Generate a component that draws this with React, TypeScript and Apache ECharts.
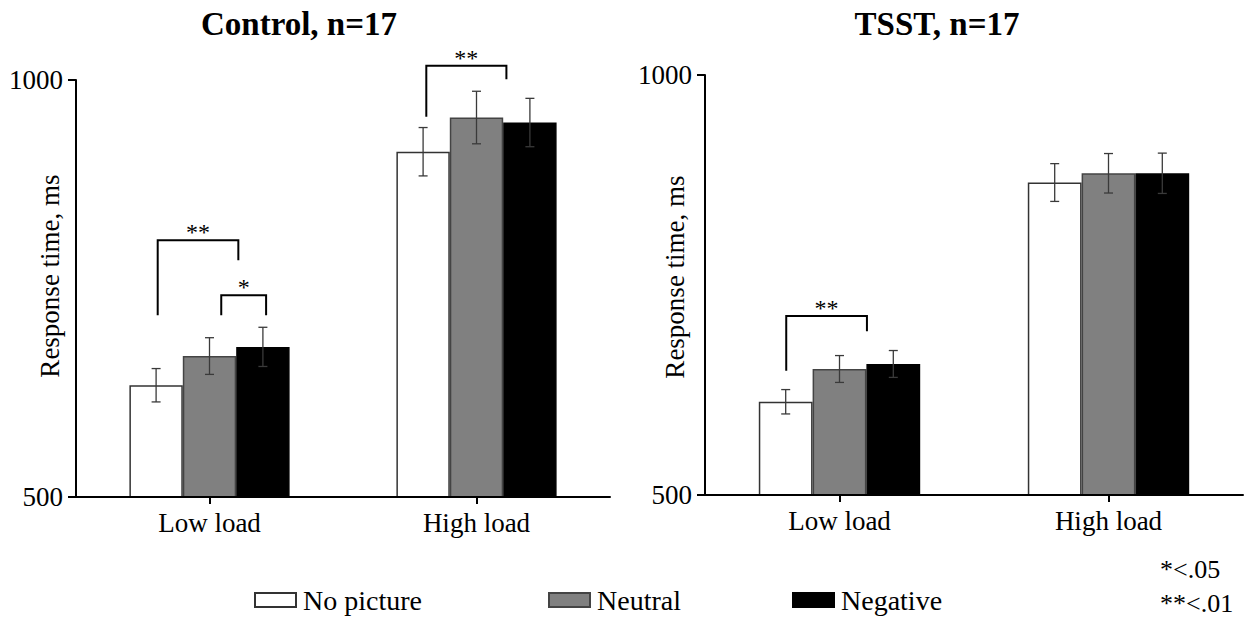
import React, { useEffect, useRef } from "react";
import * as echarts from "echarts";

const categories = ["Low load", "High load"];
const seriesNames = ["No picture", "Neutral", "Negative"];
const yTicks = [500, 1000];

// Control, n=17
const controlNoPicture = [634, 914];
const controlNeutral = [669, 955];
const controlNegative = [680, 949];
const controlNoPictureErr = [20, 29];
const controlNeutralErr = [22, 31.5];
const controlNegativeErr = [23.5, 29];

// TSST, n=17
const tsstNoPicture = [611, 872];
const tsstNeutral = [650, 883];
const tsstNegative = [656, 883];
const tsstNoPictureErr = [14.5, 22.5];
const tsstNeutralErr = [16, 23.5];
const tsstNegativeErr = [16, 24];

// significance brackets: [category, start (bar widths from centre), end, top ms, left leg ms, right leg ms]
const controlBrackets = [
  [0, -0.97, 0.54, 808, 718, 784],
  [0, 0.22, 1.06, 742, 718, 718],
  [1, -0.94, 0.56, 1017, 956, 1001],
];
const controlBracketLabels = ["**", "*", "**"];
const tsstBrackets = [[0, -0.99, 0.51, 713, 648, 695]];
const tsstBracketLabels = ["**"];

const panelTitles = ["Control, n=17", "TSST, n=17"];
const yAxisName = "Response time, ms";
const pNotes = ["*<.05", "**<.01"];

const FONT = "Liberation Serif";
const CAT_GAP = 0.4;

const fills = ["#ffffff", "#808080", "#000000"];
const borders = ["#333333", "#444444", "#000000"];

export default function App() {
  const ref = useRef<HTMLDivElement>(null);

  useEffect(() => {
    if (!ref.current) return;
    const chart = echarts.init(ref.current, null, { renderer: "svg" });

    const panels = [
      {
        means: [controlNoPicture, controlNeutral, controlNegative],
        errs: [controlNoPictureErr, controlNeutralErr, controlNegativeErr],
        brackets: controlBrackets,
        labels: controlBracketLabels,
      },
      {
        means: [tsstNoPicture, tsstNeutral, tsstNegative],
        errs: [tsstNoPictureErr, tsstNeutralErr, tsstNegativeErr],
        brackets: tsstBrackets,
        labels: tsstBracketLabels,
      },
    ];

    const series: any[] = [];
    panels.forEach((p, pi) => {
      seriesNames.forEach((name, k) => {
        series.push({
          type: "bar",
          name,
          xAxisIndex: pi,
          yAxisIndex: pi,
          data: p.means[k],
          barGap: "0%",
          barCategoryGap: CAT_GAP * 100 + "%",
          itemStyle: { color: fills[k], borderColor: borders[k], borderWidth: 1.5 },
          z: 2,
        });
      });
      seriesNames.forEach((name, k) => {
        series.push({
          type: "custom",
          coordinateSystem: "cartesian2d",
          xAxisIndex: pi,
          yAxisIndex: pi,
          clip: false,
          z: 4,
          silent: true,
          data: p.means[k].map((m, ci) => [ci, m, p.errs[k][ci]]),
          encode: { x: 0, y: 1 },
          renderItem: (params: any, api: any) => {
            const cat = api.value(0);
            const mean = api.value(1);
            const err = api.value(2);
            const band = api.size([1, 0])[0];
            const bw = (band * (1 - CAT_GAP)) / 3;
            const c = api.coord([cat, mean]);
            const x = c[0] + (k - 1) * bw;
            const yTop = api.coord([cat, mean + err])[1];
            const yBot = api.coord([cat, mean - err])[1];
            const st = { stroke: "#3a3a3a", lineWidth: 1.3 };
            return {
              type: "group",
              children: [
                { type: "line", shape: { x1: x, y1: yTop, x2: x, y2: yBot }, style: st },
                { type: "line", shape: { x1: x - 4.5, y1: yTop, x2: x + 4.5, y2: yTop }, style: st },
                { type: "line", shape: { x1: x - 4.5, y1: yBot, x2: x + 4.5, y2: yBot }, style: st },
              ],
            };
          },
        });
      });
      series.push({
        type: "custom",
        coordinateSystem: "cartesian2d",
        xAxisIndex: pi,
        yAxisIndex: pi,
        clip: false,
        z: 5,
        silent: true,
        data: p.brackets,
        encode: { x: 0, y: 3 },
        renderItem: (params: any, api: any) => {
          const b = p.brackets[params.dataIndex];
          const band = api.size([1, 0])[0];
          const bw = (band * (1 - CAT_GAP)) / 3;
          const cx = api.coord([b[0], b[3]])[0];
          const x1 = cx + b[1] * bw;
          const x2 = cx + b[2] * bw;
          const yT = api.coord([b[0], b[3]])[1];
          const yL = api.coord([b[0], b[4]])[1];
          const yR = api.coord([b[0], b[5]])[1];
          return {
            type: "group",
            children: [
              {
                type: "polyline",
                shape: { points: [[x1, yL], [x1, yT], [x2, yT], [x2, yR]] },
                style: { stroke: "#000", lineWidth: 2, fill: "none" },
              },
              {
                type: "text",
                x: (x1 + x2) / 2,
                y: yT - 8,
                style: {
                  text: p.labels[params.dataIndex],
                  font: `24px ${FONT}`,
                  fill: "#000",
                  align: "center",
                  verticalAlign: "middle",
                },
              },
            ],
          };
        },
      });
    });

    const axisLineStyle = { color: "#000", width: 2 };

    const option: any = {
      animation: false,
      backgroundColor: "#fff",
      textStyle: { fontFamily: FONT },
      grid: [
        { left: 76, right: 1249 - 610, top: 80, bottom: 617 - 497 },
        { left: 705, right: 1249 - 1243, top: 75, bottom: 617 - 495 },
      ],
      xAxis: [0, 1].map((i) => ({
        type: "category",
        gridIndex: i,
        data: categories,
        axisLine: { show: true, lineStyle: axisLineStyle },
        axisTick: { show: true, alignWithLabel: true, length: 7, lineStyle: { color: "#000", width: 2 } },
        axisLabel: { color: "#000", fontSize: 27, fontFamily: FONT, margin: 12 },
        splitLine: { show: false },
        z: 6,
      })),
      yAxis: [0, 1].map((i) => ({
        type: "value",
        gridIndex: i,
        min: yTicks[0],
        max: yTicks[yTicks.length - 1],
        interval: yTicks[1] - yTicks[0],
        axisLine: { show: true, lineStyle: axisLineStyle },
        axisTick: { show: true, length: 8, lineStyle: { color: "#000", width: 2 } },
        axisLabel: {
          color: "#000",
          fontSize: 27,
          fontFamily: FONT,
          margin: 13,
          formatter: (v: number) => String(v),
        },
        splitLine: { show: false },
        z: 6,
      })),
      legend: seriesNames.map((name, k) => ({
        data: [name],
        left: [254, 548, 792][k],
        top: 586,
        padding: 0,
        itemWidth: 41,
        itemHeight: 14,
        itemGap: 0,
        icon: "rect",
        selectedMode: false,
        textStyle: { color: "#000", fontSize: 28, fontFamily: FONT, padding: [0, 0, 0, 2] },
      })),
      series,
      graphic: [
        {
          type: "text",
          x: 299,
          y: 24,
          style: { text: panelTitles[0], font: `bold 33px ${FONT}`, fill: "#000", align: "center", verticalAlign: "middle" },
        },
        {
          type: "text",
          x: 937,
          y: 24,
          style: { text: panelTitles[1], font: `bold 33px ${FONT}`, fill: "#000", align: "center", verticalAlign: "middle" },
        },
        {
          type: "text",
          x: 50,
          y: 276,
          rotation: Math.PI / 2,
          style: { text: yAxisName, font: `27px ${FONT}`, fill: "#000", align: "center", verticalAlign: "middle" },
        },
        {
          type: "text",
          x: 675,
          y: 277,
          rotation: Math.PI / 2,
          style: { text: yAxisName, font: `27px ${FONT}`, fill: "#000", align: "center", verticalAlign: "middle" },
        },
        {
          type: "text",
          x: 1160,
          y: 569,
          style: { text: pNotes[0], font: `26px ${FONT}`, fill: "#000", align: "left", verticalAlign: "middle" },
        },
        {
          type: "text",
          x: 1160,
          y: 603,
          style: { text: pNotes[1], font: `26px ${FONT}`, fill: "#000", align: "left", verticalAlign: "middle" },
        },
      ],
    };

    chart.setOption(option);
    return () => chart.dispose();
  }, []);

  return (
    <div
      ref={ref}
      style={{ position: "fixed", left: 0, top: 0, width: 1249, height: 617, background: "#fff" }}
    />
  );
}
